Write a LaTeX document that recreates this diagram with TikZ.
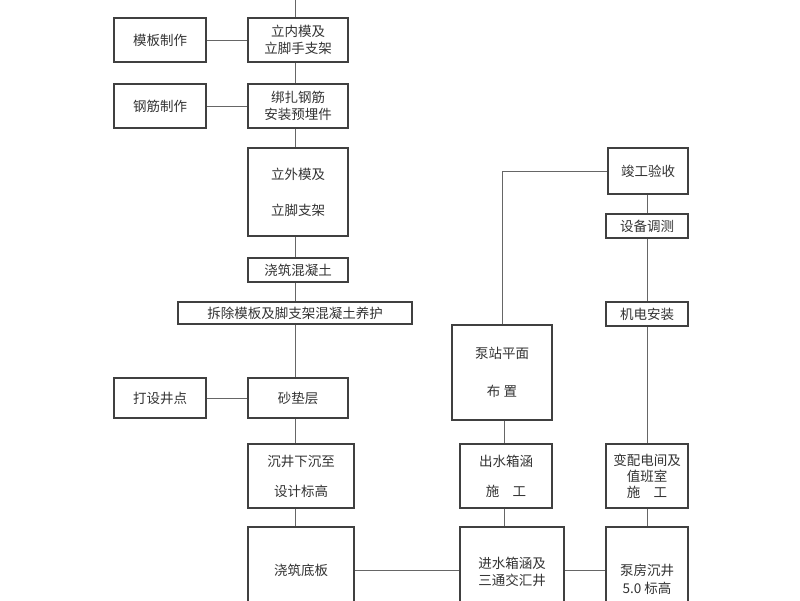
\documentclass[tikz,border=0pt]{standalone}
\usepackage{fontspec}
\newfontfamily\cjk{Noto Sans CJK SC}
\begin{document}
\begin{tikzpicture}[x=1pt,y=-1pt,
  box/.style={draw=black!75,line width=1.2pt,inner sep=0pt,align=center,font=\cjk\fontsize{13.5}{20}\selectfont,text=black!80},
  ln/.style={draw=black!60,line width=1pt}]
\useasboundingbox (0,0) rectangle (800,600);
\clip (0,0) rectangle (800,600);
\fill[white] (0,0) rectangle (800,600);
\def\bx#1#2#3#4#5#6{\node[box,minimum width=#4-#2,minimum height=#5-#3] (#1) at ({(#2+#4)/2},{(#3+#5)/2}) {#6};}
\bx{a}{248}{18}{348}{62}{立内模及\\[-3pt]立脚手支架}
\bx{ma}{114}{18}{206}{62}{模板制作}
\bx{b}{248}{84}{348}{128}{绑扎钢筋\\[-3pt]安装预埋件}
\bx{mb}{114}{84}{206}{128}{钢筋制作}
\bx{c}{248}{148}{348}{236}{立外模及\\[16pt]立脚支架}
\bx{d}{248}{258}{348}{282}{浇筑混凝土}
\bx{e}{178}{302}{412}{324}{拆除模板及脚支架混凝土养护}
\bx{me}{114}{378}{206}{418}{打设井点}
\bx{f}{248}{378}{348}{418}{砂垫层}
\bx{g}{248}{444}{354}{508}{沉井下沉至\\[10pt]设计标高}
\bx{h}{248}{527}{354}{614}{浇筑底板}
\bx{i}{460}{527}{564}{617}{进水箱涵及\\[-3pt]三通交汇井}
\bx{j}{606}{527}{688}{631}{泵房沉井\\[-2pt]5.0 标高}
\bx{k}{460}{444}{552}{508}{出水箱涵\\[10pt]施\quad 工}
\bx{l}{606}{444}{688}{508}{变配电间及\\[-4pt]值班室\\[-4pt]施\quad 工}
\bx{m}{452}{325}{552}{420}{泵站平面\\[18pt]布\ 置}
\bx{n}{606}{302}{688}{326}{机电安装}
\bx{o}{606}{214}{688}{238}{设备调测}
\bx{p}{608}{148}{688}{194}{竣工验收}
\coordinate (top) at (295,0);
\coordinate (rx) at (504,0);
\draw[ln] (top) -- (a.north-|top);
\draw[ln] (a.south-|top) -- (b.north-|top);
\draw[ln] (b.south-|top) -- (c.north-|top);
\draw[ln] (c.south-|top) -- (d.north-|top);
\draw[ln] (d.south-|top) -- (e.north-|top);
\draw[ln] (e.south-|top) -- (f.north-|top);
\draw[ln] (f.south-|top) -- (g.north-|top);
\draw[ln] (g.south-|top) -- (h.north-|top);
\draw[ln] (ma) -- (a); \draw[ln] (mb) -- (b); \draw[ln] (me) -- (f);
\draw[ln] (h.east|-0,570) -- (i.west|-0,570);
\draw[ln] (i.east|-0,570) -- (j.west|-0,570);
\draw[ln] (k.south-|rx) -- (i.north-|rx);
\draw[ln] (m.south-|rx) -- (k.north-|rx);
\draw[ln] (l) -- (l|-j.north);
\draw[ln] (n) -- (l);
\draw[ln] (o) -- (n);
\draw[ln] (p.south-|o) -- (o);
\draw[ln] (m.north) |- (p.west);
\end{tikzpicture}
\end{document}
